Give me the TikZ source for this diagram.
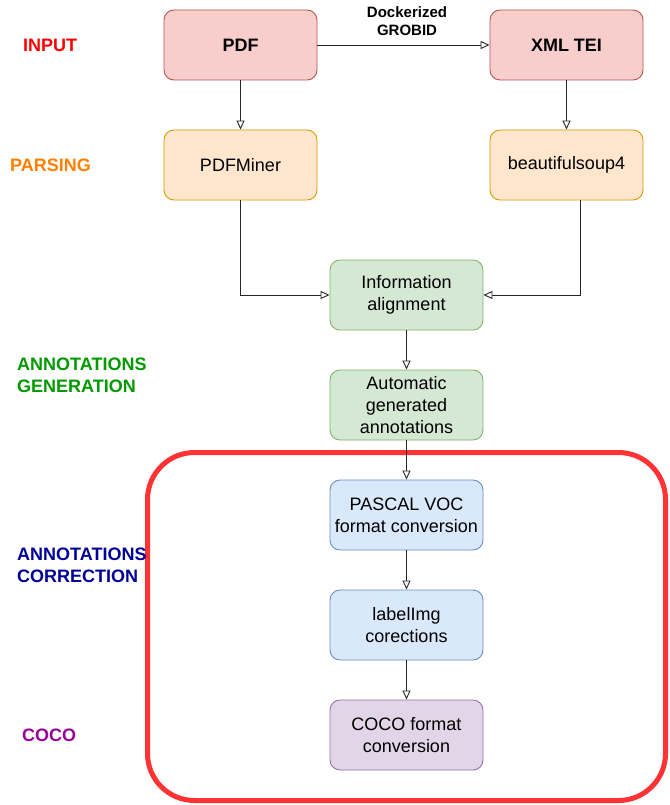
\documentclass[tikz,border=0pt]{standalone}
\usepackage{fontspec}
\setmainfont{Liberation Sans}
\usetikzlibrary{arrows.meta}
\definecolor{redfill}{HTML}{F8CECC}\definecolor{redline}{HTML}{B85450}
\definecolor{orfill}{HTML}{FFE6CC}\definecolor{orline}{HTML}{D79B00}
\definecolor{grfill}{HTML}{D5E8D4}\definecolor{grline}{HTML}{82B366}
\definecolor{blfill}{HTML}{DAE8FC}\definecolor{blline}{HTML}{6C8EBF}
\definecolor{pufill}{HTML}{E1D5E7}\definecolor{puline}{HTML}{9673A6}
\definecolor{frame}{HTML}{FF3333}
\definecolor{cinput}{HTML}{FF0000}
\definecolor{cparse}{HTML}{FF8000}
\definecolor{cgen}{HTML}{009900}
\definecolor{ccorr}{HTML}{000099}
\definecolor{ccoco}{HTML}{990099}
\begin{document}
\begin{tikzpicture}[x=1pt,y=-1pt,
  box/.style={rectangle, rounded corners=10pt, minimum width=153pt, minimum height=70pt,
    line width=0.9pt, align=center, inner sep=0pt, font=\fontsize{18}{22}\selectfont},
  redbox/.style={box, fill=redfill, draw=redline, font=\fontsize{18}{22}\selectfont\bfseries},
  orbox/.style={box, fill=orfill, draw=orline},
  grbox/.style={box, fill=grfill, draw=grline},
  blbox/.style={box, fill=blfill, draw=blline},
  pubox/.style={box, fill=pufill, draw=puline},
  arr/.style={line width=0.9pt, draw=black!85, -{Triangle[length=9pt,width=8pt,fill=white]}},
  side/.style={font=\fontsize{18}{22}\selectfont\bfseries, inner sep=0pt, align=left}
]
\useasboundingbox (0,0) rectangle (669,805);
\fill[white] (0,0) rectangle (669,805);

\draw[line width=5pt, frame, rounded corners=47pt] (147.5,452.5) rectangle (665.5,800.5);

\node[redbox] (pdf) at (240.5,45) {PDF};
\node[redbox] (xml) at (566.5,45) {XML TEI};
\node[orbox] (pdfminer) at (240.5,165) {PDFMiner};
\node[orbox] (bs) at (566.5,165) {beautifulsoup4};
\node[grbox] (info) at (406.5,295) {Information\\alignment};
\node[grbox] (auto) at (406.5,405) {Automatic\\generated\\annotations};
\node[blbox] (pascal) at (406.5,515) {PASCAL VOC\\format conversion};
\node[blbox] (label) at (406.5,625) {labelImg\\corections};
\node[pubox] (coco) at (406.5,735) {COCO format\\conversion};

\node[font=\fontsize{15}{18}\selectfont\bfseries, align=center, inner sep=0pt] (grobid) at (407,21) {Dockerized\\GROBID};

\node[side, text=cinput, anchor=west] (linput) at (23,45) {INPUT};
\node[side, text=cparse, anchor=west] (lparse) at (10,165) {PARSING};
\node[side, text=cgen, anchor=west] (lgen) at (17,375) {ANNOTATIONS\\GENERATION};
\node[side, text=ccorr, anchor=west] (lcorr) at (17,565) {ANNOTATIONS\\CORRECTION};
\node[side, text=ccoco, anchor=west] (lcoco) at (22,735) {COCO};

\draw[arr] (pdf) -- (xml);
\draw[arr] (pdf) -- (pdfminer);
\draw[arr] (xml) -- (bs);
\draw[arr] (pdfminer.south) |- (info.west);
\draw[arr] ([xshift=13.5pt]bs.south) |- (info.east);
\draw[arr] (info) -- (auto);
\draw[arr] (auto) -- (pascal);
\draw[arr] (pascal) -- (label);
\draw[arr] (label) -- (coco);
\end{tikzpicture}
\end{document}
